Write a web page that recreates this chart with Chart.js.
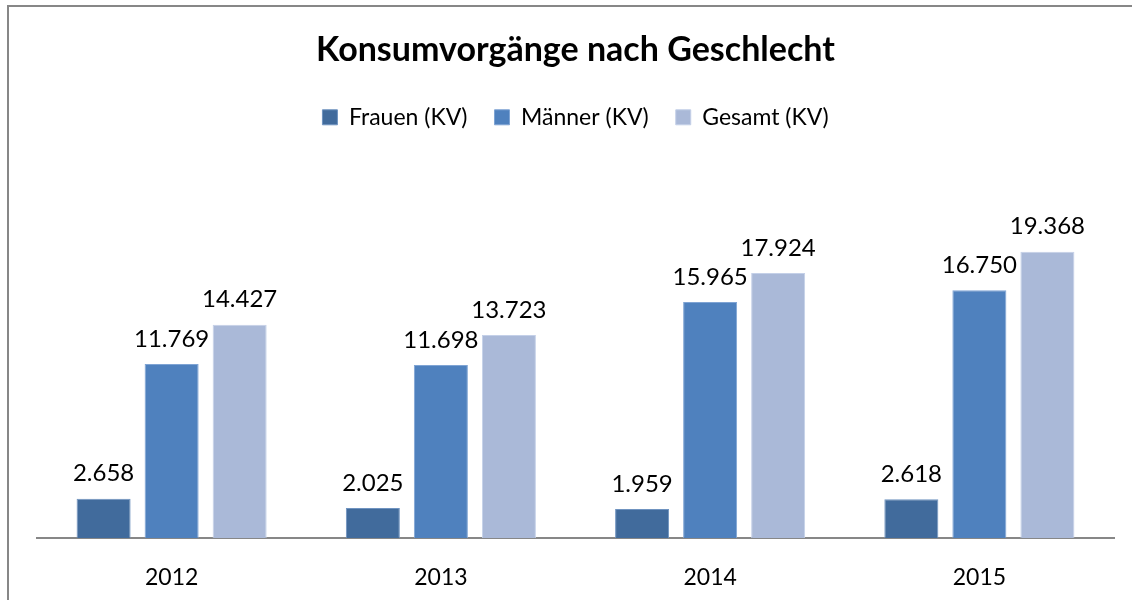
<!DOCTYPE html>
<html>
<head>
<meta charset="utf-8">
<script src="https://cdn.jsdelivr.net/npm/chart.js@4"></script>
<style>
	body { margin: 0; background: #fff; overflow: hidden; }
	#frame { position: absolute; left: 7px; top: 5px; width: 1200px; height: 700px; border: 2px solid #878787; }
	#wrap { position: absolute; left: 0; top: 0; width: 1132px; height: 600px; }
</style>
</head>
<body>
<div id="frame"></div>
<div id="wrap"><canvas id="chart"></canvas></div>
<script>
const years = ['2012', '2013', '2014', '2015'];
const frauen = [2658, 2025, 1959, 2618];
const maenner = [11769, 11698, 15965, 16750];
const gesamt = [14427, 13723, 17924, 19368];

const FONT = 'Lato, "Open Sans", sans-serif';

function formatDe(v) {
	return String(v).replace(/\B(?=(\d{3})+(?!\d))/g, '.');
}

// Zahlen über den Balken
const valueLabels = {
	id: 'valueLabels',
	afterDatasetsDraw(chart) {
		const ctx = chart.ctx;
		ctx.save();
		ctx.font = '24px ' + FONT;
		ctx.fillStyle = '#000';
		ctx.textAlign = 'center';
		ctx.textBaseline = 'bottom';
		chart.data.datasets.forEach((ds, i) => {
			chart.getDatasetMeta(i).data.forEach((bar, j) => {
				ctx.fillText(formatDe(ds.data[j]), bar.x, bar.y - 13);
			});
		});
		ctx.restore();
	}
};

new Chart(document.getElementById('chart').getContext('2d'), {
	type: 'bar',
	data: {
		labels: years,
		datasets: [{
			label: 'Frauen (KV)',
			data: frauen,
			backgroundColor: '#416B9C',
			borderColor: '#6F93C0',
			borderWidth: 1
		}, {
			label: 'Männer (KV)',
			data: maenner,
			backgroundColor: '#4F81BE',
			borderColor: '#7FA4D4',
			borderWidth: 1
		}, {
			label: 'Gesamt (KV)',
			data: gesamt,
			backgroundColor: '#AAB9D8',
			borderColor: '#C4D0E8',
			borderWidth: 1
		}]
	},
	plugins: [valueLabels],
	options: {
		responsive: true,
		maintainAspectRatio: false,
		animation: false,
		layout: { padding: { left: 37, right: 18, top: 30, bottom: 0 } },
		datasets: {
			bar: { categoryPercentage: 0.758, barPercentage: 0.794 }
		},
		plugins: {
			title: {
				display: true,
				text: 'Konsumvorgänge nach Geschlecht',
				color: '#000',
				font: { family: FONT, size: 34, weight: 'bold' },
				padding: { top: 0, bottom: 8 }
			},
			legend: {
				labels: {
					color: '#000',
					font: { family: FONT, size: 23 },
					boxWidth: 15,
					boxHeight: 15,
					padding: 27
				}
			},
			tooltip: { enabled: false }
		},
		scales: {
			x: {
				grid: { display: false },
				border: { display: true, color: '#878787', width: 2 },
				ticks: { color: '#000', font: { family: FONT, size: 23 }, padding: 18 },
				afterFit(scale) { scale.height = 62; }
			},
			y: {
				display: false,
				min: 0,
				max: 27000
			}
		}
	}
});
</script>
</body>
</html>
